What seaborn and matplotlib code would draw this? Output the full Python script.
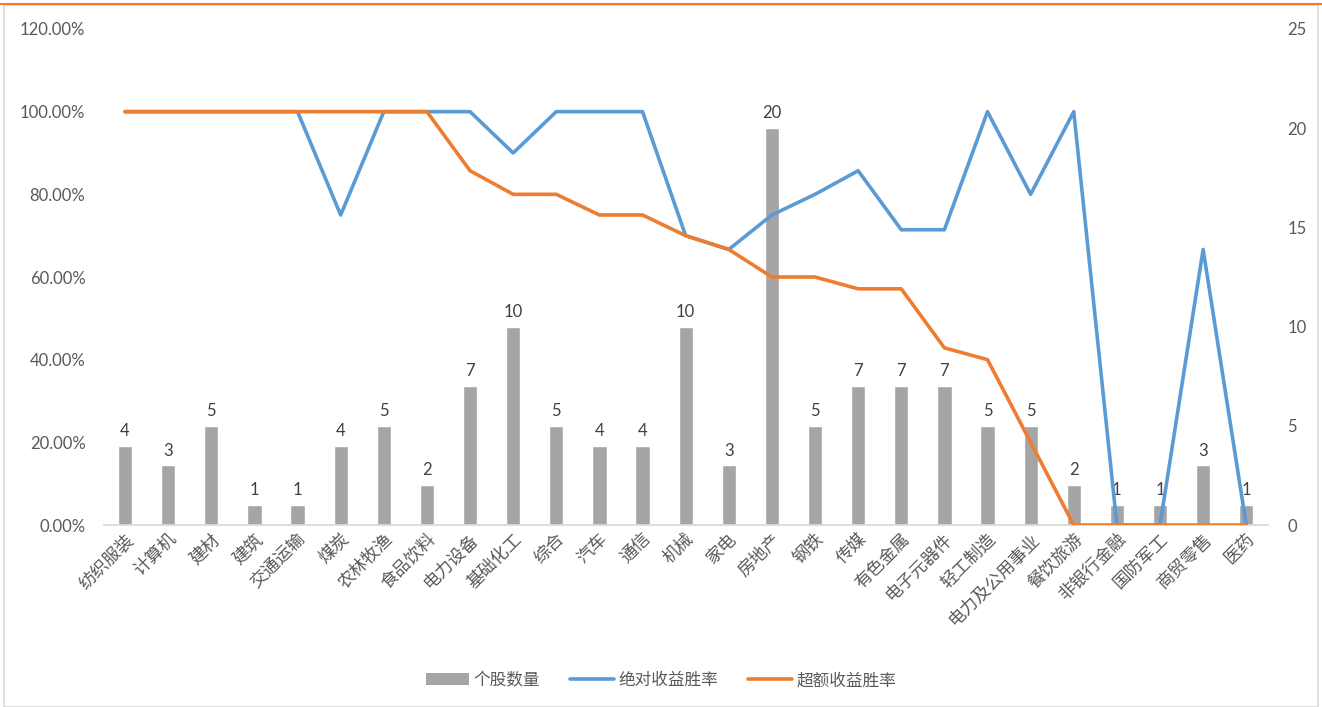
import numpy as np
import pandas as pd
import matplotlib
matplotlib.use("Agg")
import matplotlib.pyplot as plt
import seaborn as sns
from matplotlib.patches import Patch, Rectangle
from matplotlib.lines import Line2D
from matplotlib.ticker import FuncFormatter, MultipleLocator

categories = ["纺织服装", "计算机", "建材", "建筑", "交通运输", "煤炭", "农林牧渔", "食品饮料",
              "电力设备", "基础化工", "综合", "汽车", "通信", "机械", "家电", "房地产", "钢铁",
              "传媒", "有色金属", "电子元器件", "轻工制造", "电力及公用事业", "餐饮旅游",
              "非银行金融", "国防军工", "商贸零售", "医药"]
stock_counts = [4, 3, 5, 1, 1, 4, 5, 2, 7, 10, 5, 4, 4, 10, 3, 20, 5, 7, 7, 7, 5, 5, 2, 1, 1, 3, 1]
abs_win_rate = [1.0, 1.0, 1.0, 1.0, 1.0, 0.75, 1.0, 1.0, 1.0, 0.9, 1.0, 1.0, 1.0, 0.70, 0.6667,
                0.75, 0.80, 0.8571, 0.7143, 0.7143, 1.0, 0.80, 1.0, 0.0, 0.0, 0.6667, 0.0]
excess_win_rate = [1.0, 1.0, 1.0, 1.0, 1.0, 1.0, 1.0, 1.0, 0.8571, 0.80, 0.80, 0.75, 0.75, 0.70,
                   0.6667, 0.60, 0.60, 0.5714, 0.5714, 0.4286, 0.40, 0.20, 0.0, 0.0, 0.0, 0.0, 0.0]
series_names = ["个股数量", "绝对收益胜率", "超额收益胜率"]

sns.set_theme(style="white")
plt.rcParams["font.family"] = ["Lato", "Noto Sans CJK SC", "DejaVu Sans"]

GRAY = "#A5A5A5"
BLUE = "#5B9BD5"
ORANGE = "#ED7D31"
TXT = "#595959"

df = pd.DataFrame({"cat": categories, "pos": np.arange(len(categories)),
                   "count": stock_counts, "abs": abs_win_rate, "exc": excess_win_rate})

fig = plt.figure(figsize=(13.22, 7.07), dpi=100)
ax = fig.add_axes([0.0783, 0.2574, 0.9590 - 0.0783, 0.9590 - 0.2574])
sns.barplot(data=df, x="cat", y="count", order=categories, color=GRAY, width=0.33,
            saturation=1, ax=ax)
ax.bar_label(ax.containers[0], labels=[str(v) for v in stock_counts], padding=5,
             fontsize=12, color="#404040")
ax.set_ylim(0, 25)
ax.yaxis.set_major_locator(MultipleLocator(5))
ax.set_xlim(-0.5, len(categories) - 0.5)
ax.set_xlabel("")
ax.set_ylabel("")

ax2 = ax.twinx()
sns.lineplot(data=df, x="pos", y="abs", color=BLUE, linewidth=2.6, ax=ax2)
sns.lineplot(data=df, x="pos", y="exc", color=ORANGE, linewidth=2.6, ax=ax2)
ax2.set_ylim(0, 1.2)
ax2.yaxis.set_major_locator(MultipleLocator(0.2))
ax2.yaxis.set_major_formatter(FuncFormatter(lambda v, p: f"{v*100:.2f}%"))
ax2.set_xlabel("")
ax2.set_ylabel("")
ax2.set_xlim(-0.5, len(categories) - 0.5)

# bars' count axis on the right, percent axis on the left
ax.yaxis.set_ticks_position("right")
ax.yaxis.set_label_position("right")
ax.tick_params(axis="y", labelleft=False, labelright=True)
ax2.yaxis.set_ticks_position("left")
ax2.tick_params(axis="y", labelleft=True, labelright=False)

for a in (ax, ax2):
    for s in ["top", "left", "right"]:
        a.spines[s].set_visible(False)
    a.spines["bottom"].set_color("#D9D9D9")
    a.tick_params(axis="y", length=0, labelsize=12, labelcolor=TXT)
ax2.spines["bottom"].set_visible(False)
ax2.tick_params(axis="y", pad=13)
ax.tick_params(axis="y", pad=14)
ax.tick_params(axis="x", length=0, pad=4)
ax.set_xticks(np.arange(len(categories)))
ax.set_xticklabels(categories, rotation=45, ha="right", rotation_mode="anchor",
                   fontsize=12.5, color=TXT)

handles = [Patch(facecolor=GRAY, edgecolor="none"),
           Line2D([0], [0], color=BLUE, linewidth=2.6),
           Line2D([0], [0], color=ORANGE, linewidth=2.6)]
fig.legend(handles, series_names, loc="center", bbox_to_anchor=(0.5, 0.038), ncol=3,
           frameon=False, fontsize=12, labelcolor=TXT, handlelength=2.6, handletextpad=0.3,
           columnspacing=1.8)

fig.add_artist(Rectangle((0.003, 0.0), 0.994, 0.993, transform=fig.transFigure,
                         fill=False, edgecolor="#D9D9D9", linewidth=1.2))
fig.add_artist(Line2D([0, 1], [0.995, 0.995], transform=fig.transFigure,
                      color=ORANGE, linewidth=1.5))

fig.savefig("out.png", dpi=100)
